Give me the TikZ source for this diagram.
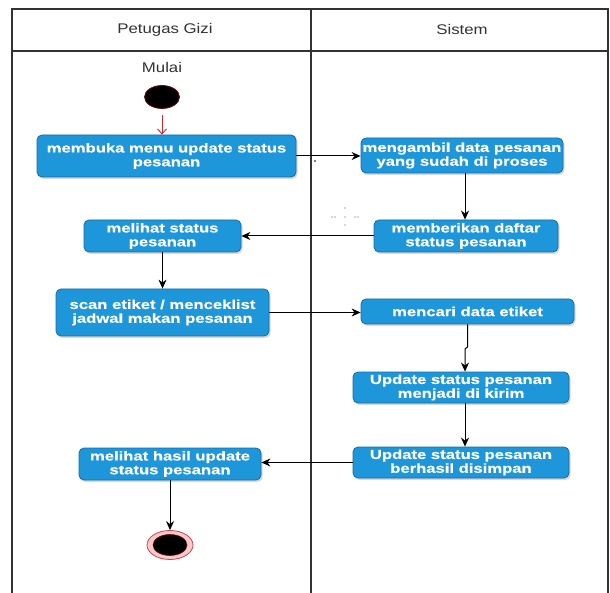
\documentclass[tikz,border=0pt]{standalone}
\usepackage{fontspec}
\setmainfont{Liberation Sans}[FakeStretch=1.2]
\newfontfamily\actfont{Liberation Sans}[FakeStretch=1.28,BoldFeatures={FakeBold=0.4}]
\usetikzlibrary{arrows.meta,shadows,shapes.geometric}

\definecolor{actfill}{RGB}{30,150,218}
\definecolor{actline}{RGB}{22,108,168}
\definecolor{laneline}{RGB}{50,50,50}
\definecolor{startrim}{RGB}{110,10,20}
\definecolor{endring}{RGB}{250,200,200}
\definecolor{endrim}{RGB}{205,70,80}
\definecolor{startarrow}{RGB}{215,40,40}

\begin{document}
\begin{tikzpicture}[x=1pt,y=-1pt,
  act/.style={draw=actline, line width=0.8pt, fill=actfill, rounded corners=5pt,
    text=white, font=\actfont\fontsize{13}{13.8}\selectfont\bfseries, align=center,
    inner sep=0pt,
    drop shadow={shadow xshift=1.5pt, shadow yshift=-2pt, opacity=0.3}},
  flow/.style={draw=black, line width=1pt, -{Stealth[length=9pt,width=8pt]}},
  lanes/.style={draw=laneline, line width=1.2pt},
  lanetitle/.style={font=\fontsize{14}{16}\selectfont, text=black!80},
  startdot/.style={ellipse, fill=black, draw=startrim, line width=0.8pt,
    minimum width=35pt, minimum height=23pt, inner sep=0pt},
  endring/.style={ellipse, fill=endring, draw=endrim, line width=0.8pt,
    minimum width=46pt, minimum height=29pt, inner sep=0pt},
  enddot/.style={ellipse, fill=black, draw=startrim, line width=0.6pt,
    minimum width=34pt, minimum height=21pt, inner sep=0pt},
  speck/.style={fill=black!70, draw=none}
]
% canvas
\useasboundingbox (0,0) rectangle (610,593);
\fill[white] (0,0) rectangle (610,593);

% swimlane frame
\draw[lanes] (12,593) -- (12,9) -- (608,9) -- (608,593);
\draw[lanes] (12,51) -- (608,51);
\draw[lanes] (311,9) -- (311,593);

\node[lanetitle] (laneA) at (165,30) {Petugas Gizi};
\node[lanetitle] (laneB) at (462,30) {Sistem};

% start
\node[lanetitle] (mulai) at (162,68) {Mulai};
\node[startdot] (start) at (162,97) {};

% activities, Petugas Gizi lane
\node[act, minimum width=259pt, minimum height=42pt] (b1) at (166.5,156)
  {membuka menu update status\\pesanan};
\node[act, minimum width=157pt, minimum height=32pt] (b4) at (162.5,236)
  {melihat status\\pesanan};
\node[act, minimum width=213pt, minimum height=47pt] (b5) at (162.5,312.5)
  {scan etiket / menceklist\\jadwal makan pesanan};
\node[act, minimum width=182pt, minimum height=32pt] (b9) at (170,464)
  {melihat hasil update\\status pesanan};

% activities, Sistem lane
\node[act, minimum width=202pt, minimum height=35pt] (b2) at (462,155.5)
  {mengambil data pesanan\\yang sudah di proses};
\node[act, minimum width=184pt, minimum height=32pt] (b3) at (466,236)
  {memberikan daftar\\status pesanan};
\node[act, minimum width=213pt, minimum height=25pt] (b6) at (467.5,311.5)
  {mencari data etiket};
\node[act, minimum width=216pt, minimum height=31pt] (b7) at (461,387.5)
  {Update status pesanan\\menjadi di kirim};
\node[act, minimum width=216pt, minimum height=31pt] (b8) at (461,462.5)
  {Update status pesanan\\berhasil disimpan};

% end
\node[endring] (finish) at (170,545) {};
\node[enddot] (finishdot) at (finish.center) {};

% flows
\draw[startarrow, line width=0.9pt, -{Straight Barb[length=5pt,width=9pt]},
  shorten <=6pt] (start.south) -- (b1.north -| start.south);
\draw[flow] (b1.east) -- (b1.east -| b2.west);
\draw[flow] (b2.south -| 465,0) -- (b3.north -| 465,0);
\draw[flow] (b3.west) -- (b3.west -| b4.east);
\draw[flow] (b4.south) -- (b5.north -| b4.south);
\draw[flow] (b5.east) -- (b5.east -| b6.west);
\coordinate (jogA) at (467.5,347);
\coordinate (jogB) at (465,349);
\draw[flow] (b6.south -| jogA) -- (jogA) -- (jogB) -- (b7.north -| jogB);
\draw[flow] (b7.south -| jogB) -- (b8.north -| jogB);
\draw[flow] (b8.west) -- (b8.west -| b9.east);
\draw[flow] (b9.south) -- (finish.north);

% stray specks
\fill[speck] (315,161) circle (1.1pt);
\foreach \p in {(345,208),(345,217),(345,225),(332,217),(335,217),(355,217),(358,217)}
  \fill[speck] \p circle (0.7pt);
\end{tikzpicture}
\end{document}
